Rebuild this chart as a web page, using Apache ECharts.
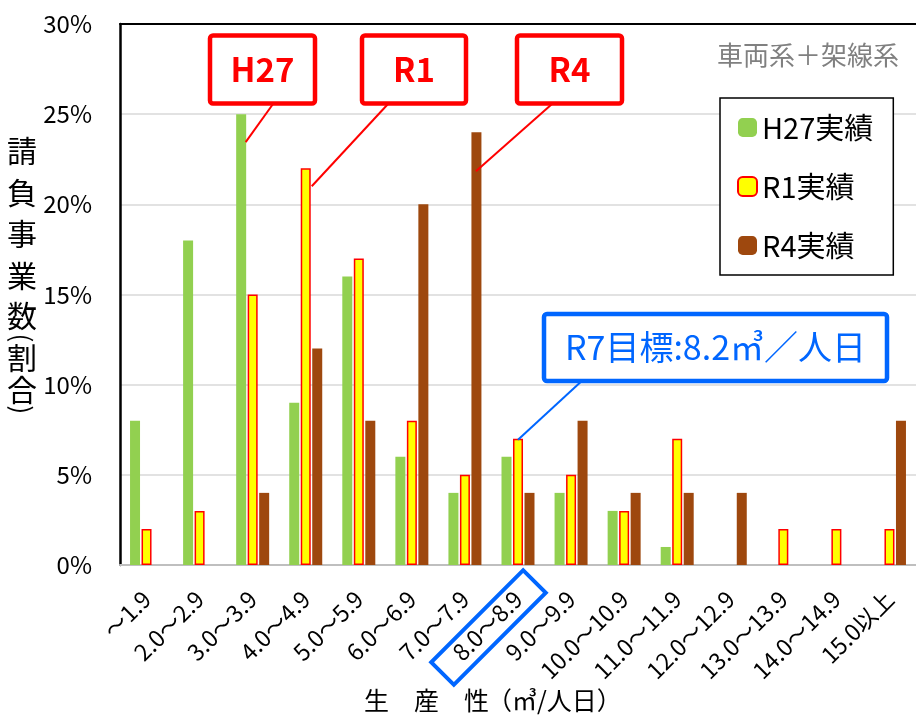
<!DOCTYPE html>
<html><head><meta charset="utf-8">
<script src="https://cdn.jsdelivr.net/npm/echarts@6/dist/echarts.min.js"></script>
<style>html,body{margin:0;padding:0;background:#fff}#c{width:916px;height:717px}</style>
</head><body><div id="c"></div>
<script>
const categories = ['～1.9','2.0～2.9','3.0～3.9','4.0～4.9','5.0～5.9','6.0～6.9','7.0～7.9','8.0～8.9','9.0～9.9','10.0～10.9','11.0～11.9','12.0～12.9','13.0～13.9','14.0～14.9','15.0以上'];
const h27 = [8,18,25,9,16,6,4,6,4,3,1,0,0,0,0];
const r1  = [2,3,15,22,17,8,5,7,5,3,7,0,2,2,2];
const r4  = [0,0,4,12,8,20,24,4,8,4,4,4,0,0,8];
const seriesNames = ['H27実績','R1実績','R4実績'];
const yTicks = [0,5,10,15,20,25,30];

const FONT = "'Noto Sans CJK JP','Noto Sans',sans-serif";
const chart = echarts.init(document.getElementById('c'));
const nz = a => a.map(v => v === 0 ? '-' : v);

function box(cx, cy, w, h, color, text, fs, bold){
  return [{
    type:'rect', shape:{x:cx-w/2,y:cy-h/2,width:w,height:h,r:3},
    style:{fill:'#fff',stroke:color,lineWidth:4.5}, z:10
  },{
    type:'text', x:cx, y:cy, style:{text:text,fill:color,font:(bold?'bold ':'')+fs+'px '+FONT,align:'center',verticalAlign:'middle'}, z:11
  }];
}

const option = {
  backgroundColor:'#fff',
  animation:false,
  grid:{left:120,right:0,top:24,bottom:152,containLabel:false},
  legend:{
    data:seriesNames, orient:'vertical', left:720, top:98,
    itemWidth:19, itemHeight:19, itemGap:28,
    padding:[14,20,14,17],
    borderColor:'#000', borderWidth:1.5, backgroundColor:'#fff',
    textStyle:{fontSize:29, lineHeight:31, color:'#000', fontFamily:FONT},
    z:20
  },
  xAxis:[{
    type:'category', data:categories,
    axisLine:{lineStyle:{color:'#bfbfbf',width:2}},
    axisTick:{show:false},
    axisLabel:{rotate:45, fontSize:23, color:'#000', margin:30, interval:0, fontFamily:FONT}
  },{
    type:'category', position:'top', data:categories,
    axisLine:{lineStyle:{color:'#000',width:2}},
    axisTick:{show:false}, axisLabel:{show:false}
  }],
  yAxis:{
    type:'value', min:0, max:30, interval:5,
    axisLine:{show:true,lineStyle:{color:'#000',width:2.5}},
    axisTick:{show:false},
    splitLine:{lineStyle:{color:'#d9d9d9',width:1.5}},
    axisLabel:{formatter:'{value}%', fontSize:24, color:'#000', margin:28, fontFamily:FONT}
  },
  series:[
    {name:seriesNames[0], type:'bar', data:nz(h27), barWidth:10, barGap:'15%', itemStyle:{color:'#92D050'}},
    {name:seriesNames[1], type:'bar', data:nz(r1), barWidth:10, barGap:'15%', itemStyle:{color:'#FFFF00',borderColor:'#FF0000',borderWidth:1.5}},
    {name:seriesNames[2], type:'bar', data:nz(r4), barWidth:10, barGap:'15%', itemStyle:{color:'#9E480E'}}
  ]
};
chart.setOption(option);

function px(i, v){ return chart.convertToPixel({xAxisIndex:0,yAxisIndex:0},[i,v]); }
const pH = px(2, h27[2]);
const pR1 = px(3, r1[3]);
const pR4 = px(6, r4[6]);
const pR7 = px(7, r1[7]);

const g = [];
g.push({type:'line', shape:{x1:273,y1:104,x2:pH[0]-7,y2:pH[1]+28}, style:{stroke:'#FF0000',lineWidth:2}, z:9});
g.push({type:'line', shape:{x1:388,y1:104,x2:pR1[0]+6,y2:pR1[1]+18}, style:{stroke:'#FF0000',lineWidth:2}, z:9});
g.push({type:'line', shape:{x1:552,y1:104,x2:pR4[0]+11,y2:pR4[1]+39}, style:{stroke:'#FF0000',lineWidth:2}, z:9});
g.push({type:'line', shape:{x1:585,y1:378,x2:pR7[0],y2:pR7[1]+1}, style:{stroke:'#0066FF',lineWidth:2}, z:9});
g.push(...box(262.5,69.5,105,68,'#FF0000','H27',33,true));
g.push(...box(414,69.5,104,68,'#FF0000','R1',33,true));
g.push(...box(569.5,69.5,105,68,'#FF0000','R4',33,true));
g.push(...box(715.5,347.5,343,67,'#0066FF','R7目標:8.2㎥／人日',34,false));
g.push({type:'rect', x:488.5, y:627.5, rotation:Math.PI/4, shape:{x:-65,y:-16,width:130,height:32}, style:{fill:'none',stroke:'#0066FF',lineWidth:4}, z:12});
g.push({type:'text', x:808, y:55, style:{text:'車両系＋架線系', fill:'#808080', font:'26px '+FONT, align:'center', verticalAlign:'middle'}, z:11});
g.push({type:'text', x:364, y:700, style:{text:'生　産　性', fill:'#000', font:'25px '+FONT, align:'left', verticalAlign:'middle'}, z:11});
g.push({type:'text', x:487, y:700, style:{text:'（㎥/人日）', fill:'#000', font:'25px '+FONT, align:'left', verticalAlign:'middle'}, z:11});
const yChars = [['請',151],['負',193],['事',234],['業',276],['数',316],['割',358],['合',390]];
yChars.forEach(c=>g.push({type:'text', x:22, y:c[1], style:{text:c[0], fill:'#000', font:'30px '+FONT, align:'center', verticalAlign:'middle'}, z:11}));
g.push({type:'text', x:22, y:338, rotation:-Math.PI/2, style:{text:'(', fill:'#000', font:'26px '+FONT, align:'center', verticalAlign:'middle'}, z:11});
g.push({type:'text', x:22, y:410, rotation:-Math.PI/2, style:{text:')', fill:'#000', font:'26px '+FONT, align:'center', verticalAlign:'middle'}, z:11});

chart.setOption({graphic:{elements:g}});
</script></body></html>
